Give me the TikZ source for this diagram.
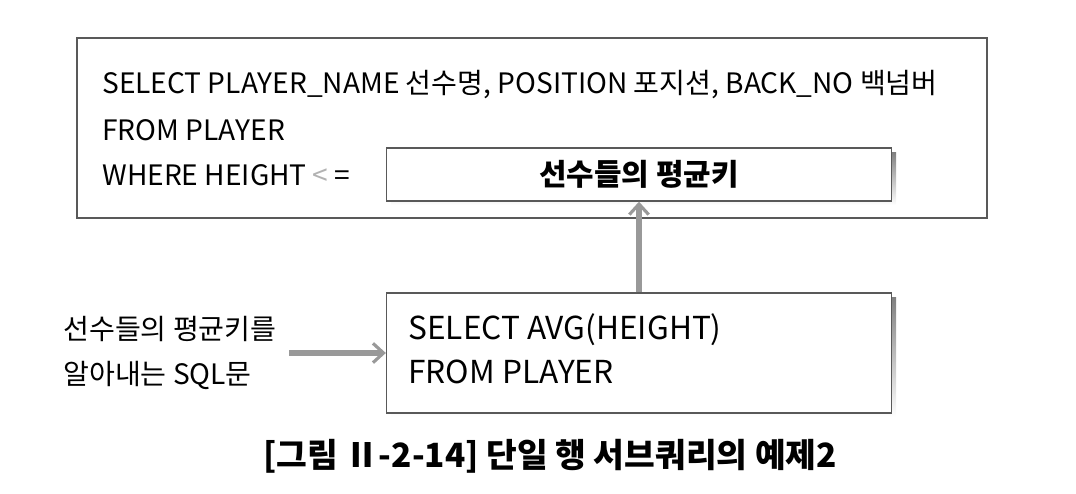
\documentclass[tikz,border=0pt]{standalone}
\usepackage{fontspec}
\setmainfont{Noto Sans CJK KR}
\usepackage{tikz}
\usetikzlibrary{arrows.meta}
\definecolor{boxline}{gray}{0.35}
\definecolor{shade}{gray}{0.6}
\def\slotbox{\node[draw=boxline,line width=0.8pt,fill=white,inner sep=0pt,minimum width=10.1cm,minimum height=1.06cm]}

\begin{document}
\begin{tikzpicture}[x=0.02cm,y=-0.02cm,font=\fontsize{16}{18}\selectfont,
  grayarrow/.style={draw=shade,line width=3pt,-{Straight Barb[length=6pt,width=11pt,line width=1.8pt]}},
  line/.style={anchor=west,inner sep=0pt}]
\useasboundingbox (0,0) rectangle (1076,494);
\node[draw=boxline,line width=0.9pt,inner sep=0pt,minimum width=18.2cm,minimum height=3.6cm] (mainq) at (532,128) {};
\node[line] (sel) at (102,85) {SELECT PLAYER\_NAME 선수명, POSITION 포지션, BACK\_NO 백넘버};
\node[line] (frm) at (102,130) {FROM PLAYER};
\node[line] (whr) at (102,175) {WHERE HEIGHT \textcolor{gray!60}{<} =};
\fill[shade] (391,152) rectangle (896,205);
\slotbox (avgslot) at (639,174.5) {};
\node (avgtext) at (avgslot) {\fontsize{17}{19}\selectfont\bfseries 선수들의 평균키};
\fill[shade] (391,297) rectangle (896,417);
\node[draw=boxline,line width=0.8pt,fill=white,inner sep=0pt,minimum width=10.1cm,minimum height=2.4cm] (subq) at (639,353) {};
\node[line] (sub1) at (408,330) {\fontsize{18}{20}\selectfont SELECT AVG(HEIGHT)};
\node[line] (sub2) at (408,372) {\fontsize{18}{20}\selectfont FROM PLAYER};
\node[anchor=west,align=left,inner sep=0pt,font=\fontsize{16}{26}\selectfont] (note) at (63,353) {선수들의 평균키를\\알아내는 SQL문};
\draw[grayarrow] (subq.north) -- (avgslot.south);
\draw[grayarrow,shorten <=7pt] (note.east) -- (subq.west);
\node[font=\fontsize{19}{21}\selectfont\bfseries] (caption) at (550,456) {[그림 Ⅱ-2-14] 단일 행 서브쿼리의 예제2};
\end{tikzpicture}
\end{document}
